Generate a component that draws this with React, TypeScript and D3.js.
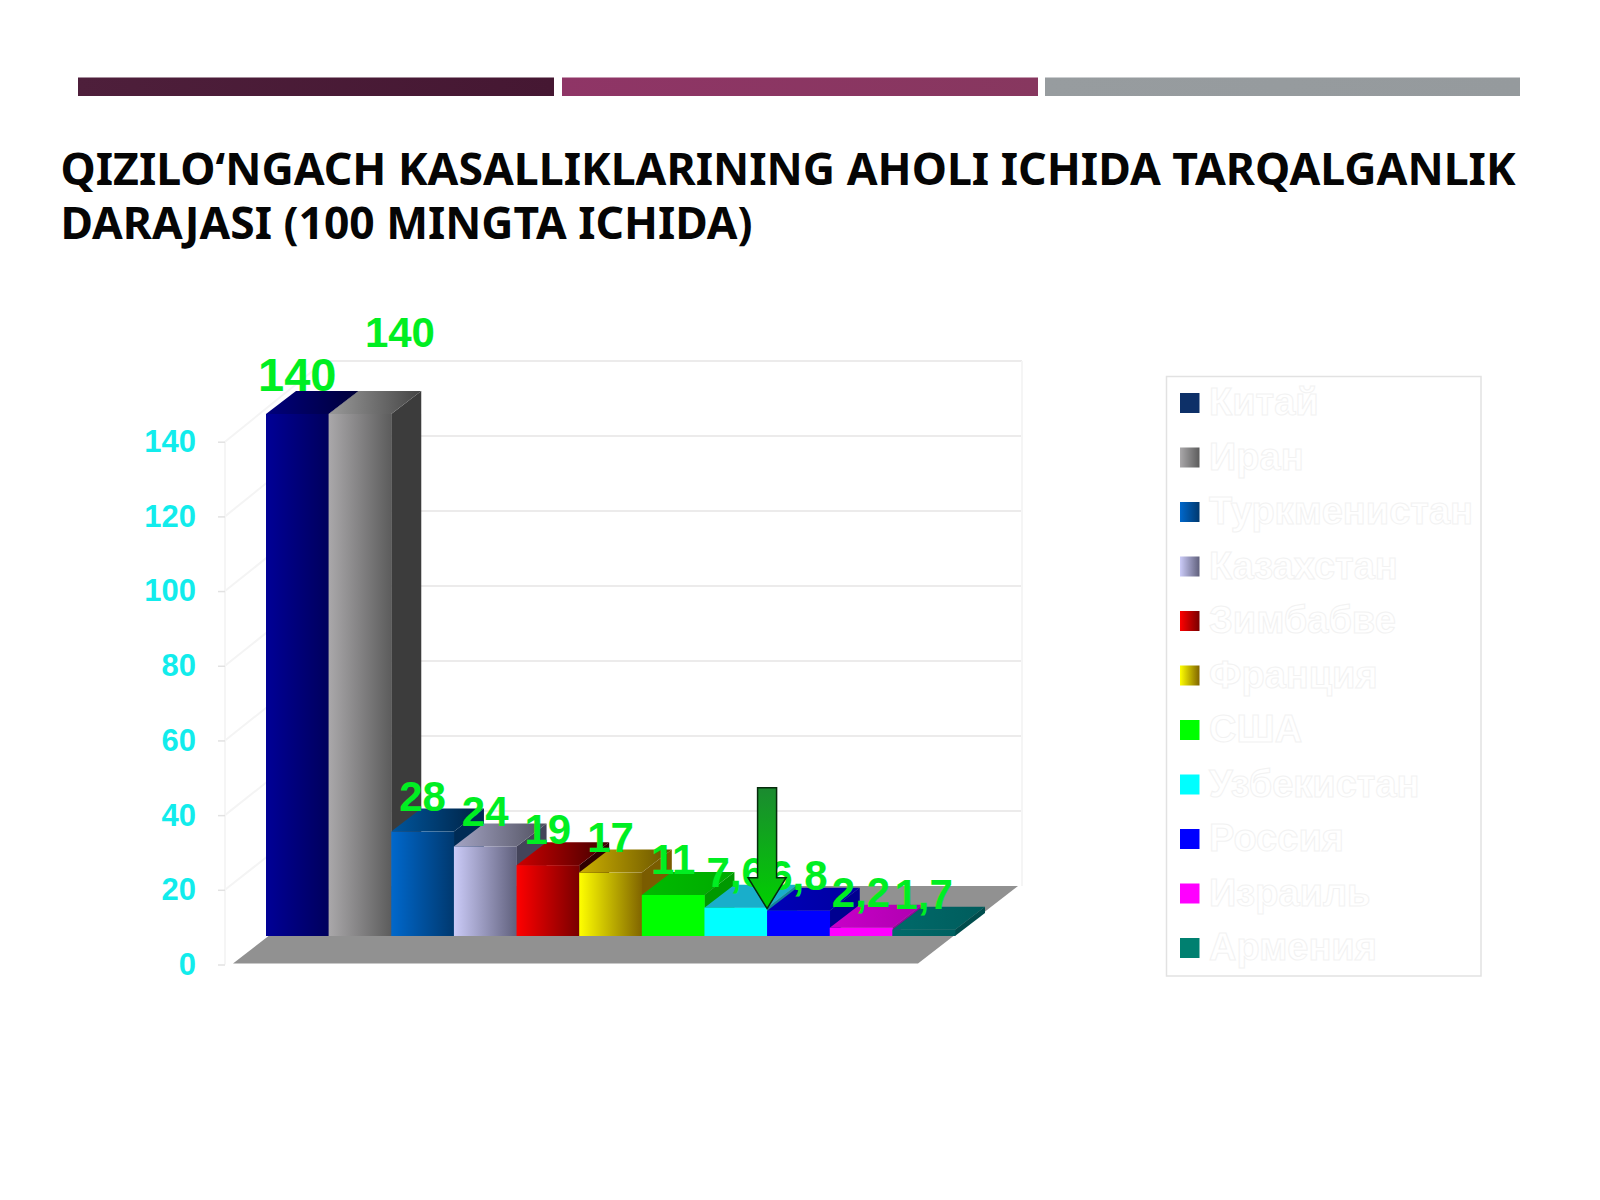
import { useEffect, useRef } from "react";
import * as d3 from "d3";

const countries = ["Китай", "Иран", "Туркменистан", "Казахстан", "Зимбабве", "Франция", "США", "Узбекистан", "Россия", "Израиль", "Армения"];
const values = [140, 140, 28, 24, 19, 17, 11, 7.6, 6.8, 2.2, 1.7];
const valueLabels = ["140", "140", "28", "24", "19", "17", "11", "7,6", "6,8", "2,2", "1,7"];
const yTicks = [0, 20, 40, 60, 80, 100, 120, 140];
const gridTicks = [20, 40, 60, 80, 100, 120, 140];

const frontStart = ["#000096", "#aaa8aa", "#0068cc", "#cbcbf8", "#ff0000", "#ffff00", "#00ff00", "#00ffff", "#0000ff", "#ff00ff", "#006a6a"];
const frontEnd = ["#00005c", "#5c5c5c", "#00386e", "#60607c", "#780000", "#806400", "#00ff00", "#00ffff", "#0000ff", "#ff00ff", "#006060"];
const topStart = ["#00007c", "#9a9a9a", "#00569e", "#a4a4c4", "#cc0000", "#ccb000", "#00bb00", "#19aecb", "#0000b8", "#c800c8", "#006a6a"];
const topEnd = ["#000038", "#444444", "#002040", "#50505f", "#400000", "#665000", "#00aa00", "#19aecb", "#0000a0", "#b000b0", "#005c5c"];
const sideColors = ["#000030", "#3c3c3c", "#002b55", "#44445a", "#300000", "#7a5c00", "#009900", "#118899", "#000090", "#990099", "#004d4d"];
const legendFirstColor = "#0d3068";
const legendLastColor = "#008070";

const titleLines = ["QIZILO‘NGACH KASALLIKLARINING AHOLI ICHIDA TARQALGANLIK", "DARAJASI (100 MINGTA ICHIDA)"];
const topBars = [
  { x: 78, w: 476, c0: "#4e1f3b", c1: "#451732" },
  { x: 562, w: 476, c0: "#8f3566", c1: "#87375f" },
  { x: 1045, w: 475, c0: "#979c9f", c1: "#959a9d" },
];

export default function App() {
  const svgRef = useRef<SVGSVGElement>(null);

  useEffect(() => {
    if (!svgRef.current) return;
    const svg = d3.select(svgRef.current);
    svg.selectAll("*").remove();

    const depthX = 30;
    const depthY = 23;
    const wallX = 100;

    // Scales
    const x = d3.scaleBand<string>().domain(countries).range([266, 955]);
    const y = d3.scaleLinear().domain([0, 140]).range([936, 414]);
    const yAxis = d3.scaleLinear().domain([0, 140]).range([964.5, 441.7]);
    const yWall = d3.scaleLinear().domain([0, 140]).range([886, 361]);
    const bw = x.bandwidth();

    // Gradients
    const defs = svg.append("defs");
    const gradient = (id: string, a: string, b: string) => {
      const g = defs.append("linearGradient").attr("id", id);
      g.append("stop").attr("offset", "0%").attr("stop-color", a);
      g.append("stop").attr("offset", "100%").attr("stop-color", b);
    };
    countries.forEach((_, i) => {
      gradient(`front-${i}`, frontStart[i], frontEnd[i]);
      gradient(`top-${i}`, topStart[i], topEnd[i]);
    });
    const arrowGrad = defs
      .append("linearGradient")
      .attr("id", "arrow")
      .attr("x1", 0)
      .attr("x2", 0)
      .attr("y1", 0)
      .attr("y2", 1);
    arrowGrad.append("stop").attr("offset", "0%").attr("stop-color", "#1b8a30");
    arrowGrad.append("stop").attr("offset", "100%").attr("stop-color", "#00d000");

    // Header
    topBars.forEach((b, i) => {
      gradient(`head-${i}`, b.c0, b.c1);
      svg
        .append("rect")
        .attr("x", b.x)
        .attr("y", 77.5)
        .attr("width", b.w)
        .attr("height", 18.5)
        .attr("fill", `url(#head-${i})`);
    });
    const titleLengths = [1455, 692];
    titleLines.forEach((line, i) => {
      svg
        .append("text")
        .attr("x", 60.5)
        .attr("y", 185 + i * 54)
        .attr("textLength", titleLengths[i])
        .attr("lengthAdjust", "spacingAndGlyphs")
        .style("font-family", "'Noto Sans'")
        .style("font-weight", 700)
        .style("font-size", "44px")
        .style("fill", "#050505")
        .text(line);
    });

    // Walls and grid
    const left = 225;
    const grid = svg.append("g").attr("fill", "none");
    gridTicks.forEach((v) => {
      grid
        .append("path")
        .attr("d", `M${left},${yAxis(v)}L${left + wallX},${yWall(v)}`)
        .attr("stroke", "#f4f4f4")
        .attr("stroke-width", 2);
      grid
        .append("path")
        .attr("d", `M${left + wallX},${yWall(v)}H1022`)
        .attr("stroke", "#ecebeb")
        .attr("stroke-width", 2);
    });
    grid
      .append("path")
      .attr("d", `M${left},${yAxis(140)}V${yAxis(0)}M1022,${yWall(140)}V${yWall(0)}`)
      .attr("stroke", "#f5f5f5")
      .attr("stroke-width", 2);

    // Floor
    svg
      .append("path")
      .attr("d", `M233,963.5L${233 + wallX},${yWall(0)}H1018L918,963.5Z`)
      .attr("fill", "#919191");

    // Axis
    const axis = svg
      .append("g")
      .attr("transform", "translate(225,0)")
      .call(d3.axisLeft(yAxis).tickValues(yTicks).tickSize(7).tickPadding(22).tickFormat((d) => String(d)));
    axis.select(".domain").remove();
    axis.selectAll("line").attr("stroke", "#e2e2e2").attr("stroke-width", 1.5);
    axis
      .selectAll("text")
      .style("font-family", "'Liberation Sans'")
      .style("font-weight", 700)
      .style("font-size", "31px")
      .style("fill", "#12ecec");

    // Bars, left to right so each one covers the previous side
    const bars = svg.append("g");
    countries.forEach((name, i) => {
      const x0 = x(name) as number;
      const top = y(values[i]);
      const base = y(0);
      bars
        .append("path")
        .attr("d", `M${x0 + bw},${base}L${x0 + bw + depthX},${base - depthY}V${top - depthY}L${x0 + bw},${top}Z`)
        .attr("fill", sideColors[i]);
      bars
        .append("path")
        .attr("d", `M${x0},${top}L${x0 + depthX},${top - depthY}H${x0 + bw + depthX}L${x0 + bw},${top}Z`)
        .attr("fill", `url(#top-${i})`);
      bars
        .append("rect")
        .attr("x", x0)
        .attr("y", top)
        .attr("width", bw + 0.3)
        .attr("height", base - top)
        .attr("fill", `url(#front-${i})`);
    });

    // Value labels
    svg
      .append("g")
      .selectAll("text")
      .data(countries)
      .enter()
      .append("text")
      .attr("x", (d, i) => (x(d) as number) + bw / 2 + (i === 1 ? 40 : 0))
      .attr("y", (d, i) => y(values[i]) - (i === 1 ? 67 : i === 0 ? 23 : 21))
      .attr("text-anchor", "middle")
      .style("font-family", "'Liberation Sans'")
      .style("font-weight", 700)
      .style("font-size", (d, i) => (i === 0 ? "47px" : "42px"))
      .style("fill", "#00ee22")
      .text((d, i) => valueLabels[i]);

    // Arrow on the Uzbekistan bar
    const tipX = x("Россия") as number;
    const tipY = y(7.6) + 1;
    svg
      .append("path")
      .attr(
        "d",
        `M${tipX - 9.5},${tipY - 121}h19v90h9.5L${tipX},${tipY}L${tipX - 19},${tipY - 31}h9.5Z`
      )
      .attr("fill", "url(#arrow)")
      .attr("stroke", "#062a0c")
      .attr("stroke-width", 1.5);

    // Legend
    const legendY = d3.scalePoint<string>().domain(countries).range([403, 948]);
    const legend = svg.append("g");
    legend
      .append("rect")
      .attr("x", 1166.5)
      .attr("y", 376.5)
      .attr("width", 314.5)
      .attr("height", 599.5)
      .attr("fill", "#fff")
      .attr("stroke", "#e2e2e2")
      .attr("stroke-width", 1.5);
    countries.forEach((name, i) => {
      const cy = legendY(name) as number;
      legend
        .append("rect")
        .attr("x", 1180)
        .attr("y", cy - 10)
        .attr("width", 19.5)
        .attr("height", 20)
        .attr("fill", i === 0 ? legendFirstColor : i === 10 ? legendLastColor : `url(#front-${i})`);
      legend
        .append("text")
        .attr("x", 1209)
        .attr("y", cy + 12)
        .style("font-family", "'Liberation Sans'")
        .style("font-weight", 700)
        .style("font-size", "38px")
        .style("fill", "#ffffff")
        .style("stroke", "#f2f2f2")
        .style("stroke-width", 1)
        .text(name);
    });
  }, []);

  return (
    <svg
      ref={svgRef}
      width="1600"
      height="1200"
      style={{ position: "absolute", left: 0, top: 0, background: "#fff" }}
    />
  );
}
